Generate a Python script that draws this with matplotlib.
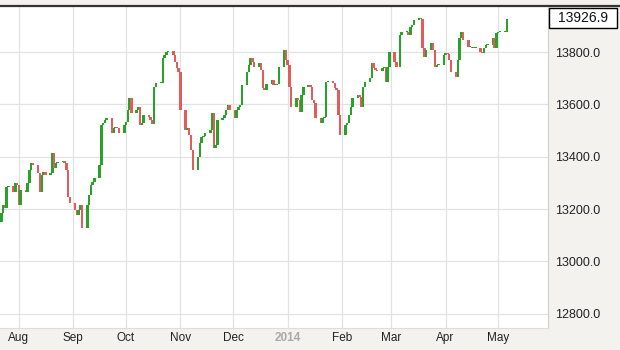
import pandas as pd
import matplotlib
matplotlib.use("Agg")
import matplotlib.pyplot as plt
from matplotlib.patches import Rectangle
from matplotlib.lines import Line2D

# ======== Data ========
START = "2013-07-22"
END = "2014-05-06"
FIRST_OPEN = 13151

# daily closes, one row per trading week
closes = [
    13185, 13216, 13205, 13285, 13287,
    13266, 13300, 13292, 13216, 13273,
    13266, 13300, 13350, 13376, 13369,
    13338, 13266, 13330, 13342, 13330,
    13338, 13414, 13357, 13376, 13380,
    13384, 13376, 13350, 13246, 13224,
    13197, 13178, 13197, 13216, 13128,
    13216, 13254, 13292, 13304, 13319,
    13369, 13521, 13529, 13540, 13548,
    13491, 13510, 13514, 13510, 13491,
    13521, 13533, 13579, 13624, 13567,
    13579, 13590, 13521, 13529, 13560,
    13552, 13540, 13525, 13666, 13682,
    13682, 13777, 13789, 13800, 13804,
    13789, 13762, 13739, 13724, 13579,
    13502, 13510, 13483, 13426, 13350,
    13399, 13453, 13476, 13479, 13491,
    13502, 13567, 13434, 13445, 13540,
    13548, 13560, 13579, 13598, 13579,
    13548, 13579, 13590, 13598, 13674,
    13724, 13750, 13777, 13762, 13743,
    13758, 13731, 13663, 13655, 13678,
    13693, 13674, 13674, 13678, 13743,
    13808, 13769, 13750, 13666, 13590,
    13624, 13617, 13571, 13636, 13666,
    13674, 13666, 13617, 13605, 13548,
    13529, 13548, 13552, 13685, 13688,
    13682, 13663, 13655, 13560, 13483,
    13521, 13529, 13560, 13590, 13624,
    13636, 13628, 13590, 13666, 13685,
    13701, 13758, 13739, 13731, 13729,
    13739, 13743, 13685, 13743, 13800,
    13762, 13743, 13741, 13865, 13876,
    13876, 13865, 13895, 13903, 13922,
    13930, 13928, 13815, 13781, 13808,
    13834, 13808, 13743, 13750, 13752,
    13789, 13796, 13794, 13769, 13724,
    13705, 13769, 13853, 13876, 13846,
    13819, 13819, 13815, 13815, 13815,
    13800, 13796, 13815, 13827, 13827,
    13853, 13815, 13873, 13876, 13876,
    13876, 13926.9,
]

LAST_VALUE = "13926.9"
y_ticks = [12800, 13000, 13200, 13400, 13600, 13800]
month_starts = ["2013-08-01", "2013-09-01", "2013-10-01", "2013-11-01", "2013-12-01",
                "2014-01-01", "2014-02-01", "2014-03-01", "2014-04-01", "2014-05-01"]
month_labels = ["Aug", "Sep", "Oct", "Nov", "Dec", "2014", "Feb", "Mar", "Apr", "May"]

UP = "#27a327"
DOWN = "#e35b5b"
PANEL = "#f3f2ef"
GRID = "#e2e2e2"


def main():
    dates = pd.bdate_range(START, END)
    assert len(dates) == len(closes), (len(dates), len(closes))

    opens = [FIRST_OPEN] + closes[:-1]
    bottoms = [min(o, c) for o, c in zip(opens, closes)]
    heights = [max(abs(c - o), 3) for o, c in zip(opens, closes)]
    colors = [UP if c >= o else DOWN for o, c in zip(opens, closes)]

    fig = plt.figure(figsize=(6.2, 3.5), dpi=100, facecolor=PANEL)
    plt.rcParams["font.family"] = ["Liberation Sans", "DejaVu Sans"]
    ax = fig.add_axes([0.0, 0.063, 0.884, 0.920])
    ax.set_facecolor("white")

    ax.bar(dates, heights, bottom=bottoms, width=1.4, color=colors,
           linewidth=0, zorder=3)

    ax.set_xlim(pd.Timestamp("2013-07-21 05:00"), pd.Timestamp("2014-05-29 10:00"))
    ax.set_ylim(12746, 13976)

    ax.set_yticks(y_ticks)
    ax.set_yticklabels([f"{v:.1f}" for v in y_ticks])
    ax.yaxis.tick_right()
    ax.tick_params(axis="y", length=0, pad=5, labelsize=9, labelcolor="#222222")

    ax.set_xticks([pd.Timestamp(d) for d in month_starts])
    ax.set_xticklabels(month_labels)
    ax.tick_params(axis="x", length=0, pad=3, labelsize=8.5, labelcolor="#222222")
    for lbl in ax.get_xticklabels():
        if lbl.get_text() == "2014":
            lbl.set_color("#aaaaaa")
            lbl.set_fontweight("bold")

    ax.grid(True, color=GRID, linewidth=0.9, zorder=0)
    ax.set_axisbelow(True)

    for side in ["left", "top"]:
        ax.spines[side].set_visible(False)
    ax.spines["right"].set_color("#cfcfcf")
    ax.spines["bottom"].set_color("#dddddd")

    # dark rule along the top of the chart
    fig.add_artist(Line2D([0, 1], [1 - 6 / 350, 1 - 6 / 350], transform=fig.transFigure,
                          color="#333333", linewidth=1.6))

    # last value box
    fig.add_artist(Rectangle((549 / 620, 1 - 28 / 350), 68 / 620, 20 / 350,
                             transform=fig.transFigure, facecolor="white",
                             edgecolor="black", linewidth=1.0))
    fig.text(583 / 620, 1 - 18 / 350, LAST_VALUE, ha="center", va="center",
             fontsize=10, color="#111111")

    fig.savefig("out.png", dpi=100, facecolor=fig.get_facecolor())


if __name__ == "__main__":
    main()
